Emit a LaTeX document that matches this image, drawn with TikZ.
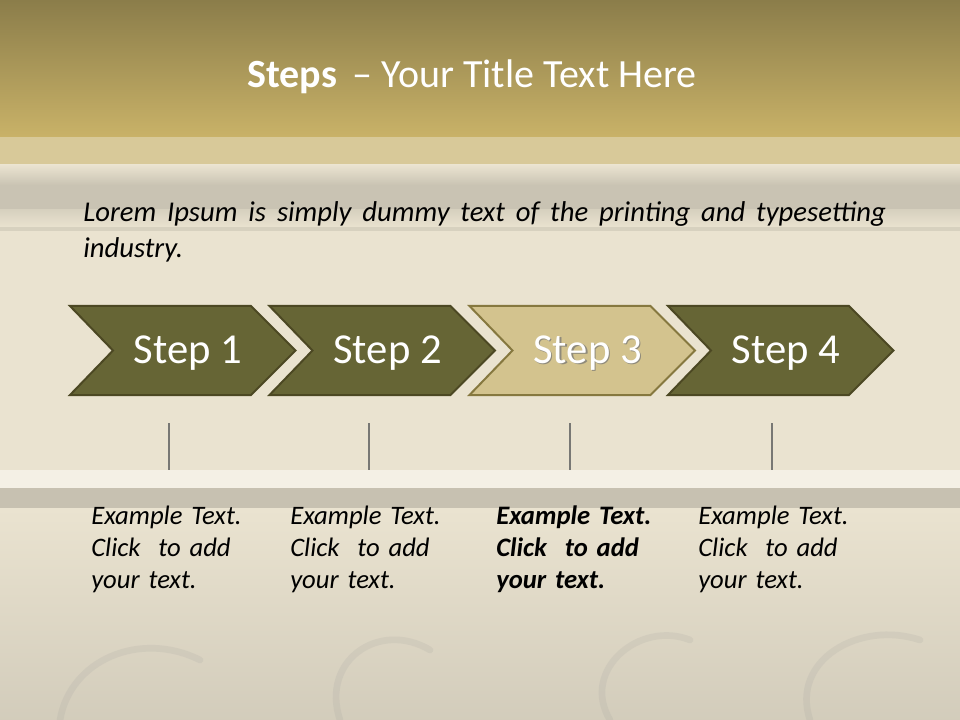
\documentclass[tikz,border=0pt]{standalone}
\usepackage{fontspec}
\setmainfont{Carlito}
\usetikzlibrary{calc}
\definecolor{titletop}{RGB}{139,125,74}
\definecolor{titlebot}{RGB}{201,178,104}
\definecolor{paper}{RGB}{234,227,208}
\definecolor{olive}{RGB}{102,101,53}
\definecolor{olivedk}{RGB}{76,72,35}
\definecolor{sand}{RGB}{211,195,142}
\definecolor{sanddk}{RGB}{134,120,63}
\definecolor{tick}{RGB}{120,120,116}
\tikzset{
  chev/.style={draw=olivedk, line width=1.5pt, fill=olive, line join=miter},
  chevhl/.style={draw=sanddk, line width=1.5pt, fill=sand, line join=miter},
  steplbl/.style={text=white, font=\fontsize{32}{38}\selectfont, inner sep=0pt},
  ticker/.style={draw=tick, line width=1.6pt},
  exbox/.style={anchor=north west, align=left, inner sep=0pt, text=black,
    font=\fontsize{20}{24}\selectfont\itshape, text width=170pt},
}
\begin{document}
\begin{tikzpicture}[x=0.75pt,y=-0.75pt]
\useasboundingbox (0,0) rectangle (960,720);
% background
\fill[paper] (0,0) rectangle (960,720);
\shade[top color=paper, bottom color=black!10!paper] (0,508) rectangle (960,720);
\fill[titlebot!75!paper, opacity=0.7] (0,137) rectangle (960,165);
\shade[top color=paper, bottom color=black!14!paper] (0,165) rectangle (960,185);
\fill[black!14!paper] (0,185) rectangle (960,210);
\shade[top color=black!8!paper, bottom color=paper] (0,210) rectangle (960,228);
\fill[black!8!paper] (0,227) rectangle (960,231);
\fill[white!45!paper] (0,470) rectangle (960,488);
\fill[black!15!paper] (0,488) rectangle (960,508);
% faint damask hints
\begin{scope}[draw=black!40, line width=5pt, line cap=round, opacity=0.15]
  \draw (60,720) .. controls (70,660) and (140,630) .. (200,660);
  \draw (340,720) .. controls (320,660) and (380,620) .. (430,650);
  \draw (610,720) .. controls (580,670) and (640,620) .. (690,640);
  \draw (810,720) .. controls (790,660) and (860,620) .. (920,640);
\end{scope}
% title band
\shade[top color=titletop, bottom color=titlebot] (0,0) rectangle (960,137);
\node[text=white, font=\fontsize{30}{36}\selectfont, inner sep=0pt] (title) at (472,77)
  {\textbf{Steps} \,– Your Title Text Here};
% intro text
\node[anchor=north west, inner sep=0pt, text width=602pt, align=justify,
  font=\fontsize{21.5}{27}\selectfont\itshape] (intro) at (83,201)
  {Lorem Ipsum is simply dummy text of the printing and typesetting\linebreak industry.};
% chevrons
\foreach \i/\off/\sty in {1/0/chev, 2/199.5/chev, 3/399.5/chevhl, 4/598/chev} {
  \draw[\sty] ($(70,306)+(\off,0)$) coordinate (s\i a) -- ++(181,0) -- ++(44.5,44.5)
    coordinate (s\i tip) -- ++(-44.5,44.5) -- ++(-181,0) -- ++(43,-44.5) -- cycle;
}
\foreach \i/\off in {1/0, 2/199.5, 4/598} {
  \node[steplbl] (lbl\i) at ($(188,353)+(\off,0)$) {Step \i};
}
\node[steplbl, text=black!55, opacity=0.7] (lbl3s) at ($(189.5,354.5)+(399.5,0)$) {Step 3};
\node[steplbl] (lbl3) at ($(188,353)+(399.5,0)$) {Step 3};
% ticks
\foreach \i/\x in {1/169, 2/369, 3/570, 4/772} {
  \coordinate (t\i top) at (\x,423);
  \coordinate (t\i bot) at (\x,470);
  \draw[ticker] (t\i top) -- (t\i bot);
}
% example texts
\node[exbox] (ex1) at (91,506) {Example Text.\\Click~ to add\\your text.};
\node[exbox] (ex2) at (290,506) {Example Text.\\Click~ to add\\your text.};
\node[exbox, font=\fontsize{20}{24}\selectfont\itshape\bfseries] (ex3) at (496,506) {Example Text.\\Click~ to add\\your text.};
\node[exbox] (ex4) at (698,506) {Example Text.\\Click~ to add\\your text.};
\end{tikzpicture}
\end{document}
